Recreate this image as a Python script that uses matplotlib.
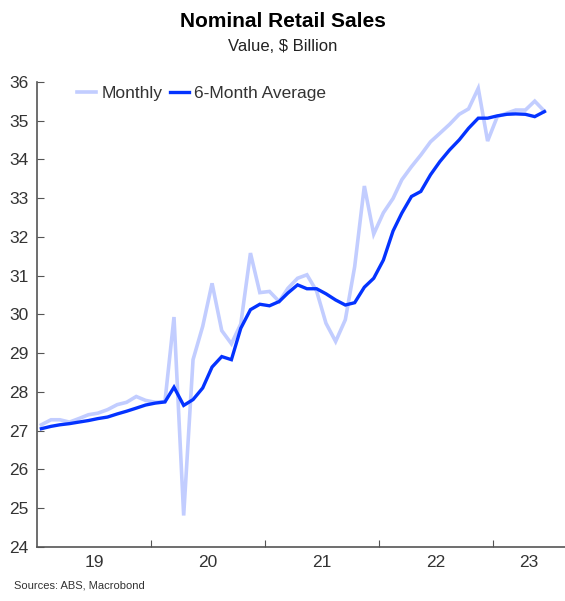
import matplotlib
matplotlib.use("Agg")
import matplotlib.pyplot as plt
import pandas as pd

plt.rcParams['font.family'] = ['Liberation Sans', 'DejaVu Sans']

# monthly data, Jan 2019 - Jun 2023 ($ billion)
monthly = [27.15, 27.28, 27.28, 27.22, 27.31, 27.41, 27.45, 27.54, 27.67, 27.73, 27.88, 27.78,
           27.73, 27.75, 29.93, 24.81, 28.83, 29.69, 30.80, 29.58, 29.24, 29.75, 31.58, 30.56,
           30.59, 30.33, 30.67, 30.93, 31.02, 30.60, 29.77, 29.30, 29.86, 31.23, 33.31, 32.07,
           32.62, 32.99, 33.47, 33.81, 34.11, 34.45, 34.67, 34.90, 35.16, 35.30, 35.83, 34.47,
           35.10, 35.19, 35.27, 35.27, 35.50, 35.24]
avg6 = [27.05, 27.11, 27.15, 27.18, 27.22, 27.26, 27.31, 27.35, 27.43, 27.50, 27.58, 27.66,
        27.71, 27.74, 28.12, 27.65, 27.80, 28.10, 28.64, 28.91, 28.83, 29.64, 30.12, 30.26,
        30.22, 30.33, 30.55, 30.76, 30.66, 30.66, 30.53, 30.37, 30.24, 30.30, 30.70, 30.93,
        31.40, 32.15, 32.61, 33.04, 33.17, 33.60, 33.94, 34.24, 34.50, 34.80, 35.06, 35.06,
        35.12, 35.16, 35.17, 35.16, 35.10, 35.23]
dates = pd.date_range('2019-01-01', periods=len(monthly), freq='MS') + pd.Timedelta(days=14)
years = ['19', '20', '21', '22', '23']

fig = plt.figure(figsize=(5.65, 6.01), dpi=100)
ax = fig.add_axes([0.0655, 0.09, 0.9345, 0.774])

ax.plot(dates, monthly, color='#c2cdff', lw=2.6, label='Monthly', solid_joinstyle='miter')
ax.plot(dates, avg6, color='#0433ff', lw=2.4, label='6-Month Average', solid_joinstyle='miter')

x0 = pd.Timestamp('2019-01-01')
x1 = pd.Timestamp('2023-08-20')
ax.set_xlim(x0, x1)
ax.set_ylim(24, 36)
ax.set_yticks(range(24, 37))

# year boundaries as major ticks, labels centred in between
bounds = [pd.Timestamp(f'20{y}-01-01') for y in years[1:]]
ax.set_xticks(bounds)
ax.set_xticklabels([])
edges = [x0] + bounds + [x1]
mids = [edges[i] + (edges[i + 1] - edges[i]) / 2 for i in range(len(years))]
ax.set_xticks(mids, minor=True)
ax.set_xticklabels(years, minor=True)
ax.tick_params(axis='x', which='minor', length=0, pad=6)
ax.tick_params(axis='both', which='major', direction='in', length=5, color='#555555',
               labelsize=12.5, labelcolor='#333333')
ax.tick_params(axis='x', which='minor', labelsize=12.5, labelcolor='#333333')
ax.tick_params(axis='y', pad=6)

for s in ['top', 'right']:
    ax.spines[s].set_visible(False)
for s in ['left', 'bottom']:
    ax.spines[s].set_color('#555555')
    ax.spines[s].set_linewidth(1.2)

leg = ax.legend(loc='upper left', bbox_to_anchor=(0.06, 1.01), ncol=2, frameon=False,
                fontsize=12.5, handlelength=1.1, handletextpad=0.3, columnspacing=0.4,
                borderaxespad=0.1)
for t in leg.get_texts():
    t.set_color('#333333')

fig.text(0.5, 0.964, 'Nominal Retail Sales', ha='center', va='center',
         fontsize=15, fontweight='bold')
fig.text(0.5, 0.922, 'Value, $ Billion', ha='center', va='center', fontsize=12, color='#222222')
fig.text(0.025, 0.026, 'Sources: ABS, Macrobond', ha='left', va='center', fontsize=8,
         color='#333333')

fig.savefig('out.png', dpi=100)
